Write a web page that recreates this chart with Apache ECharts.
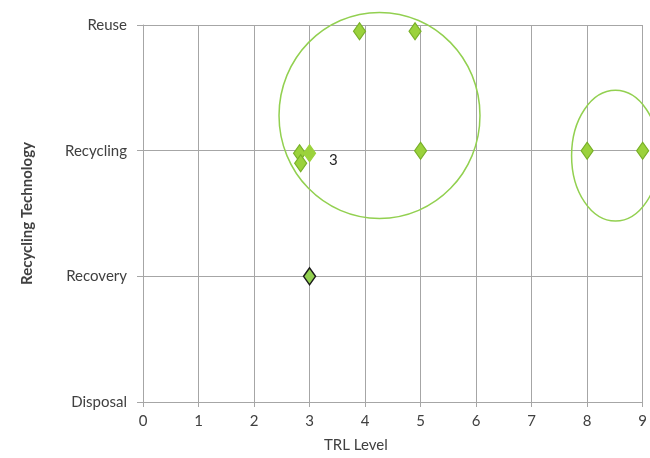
<!DOCTYPE html>
<html>
<head>
<meta charset="utf-8">
<script src="https://cdn.jsdelivr.net/npm/echarts@6/dist/echarts.min.js"></script>
<style>html,body{margin:0;padding:0;background:#fff;}#c{width:650px;height:458px;}</style>
</head>
<body>
<div id="c"></div>
<script>
const yCategories = ['Disposal', 'Recovery', 'Recycling', 'Reuse'];
const xTicks = [0, 1, 2, 3, 4, 5, 6, 7, 8, 9];
// [TRL level, technology index]
const techPoints = [
  [3.9, 2.95], [4.9, 2.95],
  [2.82, 1.98], [2.84, 1.9], [5.0, 2], [8.0, 2], [9.0, 2]
];
const labeledPoint = [3.0, 1.98];
const recoveryPoints = [[3.0, 1]];
// ellipse: [centerX, centerY, radiusX, radiusY] in data units
const ellipses = [[4.26, 2.28, 1.81, 0.82], [8.51, 1.96, 0.79, 0.52]];

const font = 'Lato';
const chart = echarts.init(document.getElementById('c'));
chart.setOption({
  animation: false,
  grid: { left: 143, right: 6, top: 25, bottom: 53, containLabel: false },
  xAxis: {
    type: 'value', min: 0, max: 9, interval: 1,
    name: 'TRL Level', nameLocation: 'middle', nameGap: 36,
    nameTextStyle: { fontFamily: font, fontSize: 15, color: '#404040', padding: [0, 74, 0, 0] },
    axisLine: { show: true, lineStyle: { color: '#a6a6a6' } },
    axisTick: { show: true, length: 5, lineStyle: { color: '#a6a6a6' } },
    axisLabel: { fontFamily: font, fontSize: 15, color: '#404040', margin: 12,
      formatter: v => xTicks.includes(v) ? String(v) : '' },
    splitLine: { show: true, lineStyle: { color: '#a6a6a6' } }
  },
  yAxis: {
    type: 'value', min: 0, max: 3, interval: 1,
    name: 'Recycling Technology', nameLocation: 'middle', nameGap: 108,
    nameTextStyle: { fontFamily: font, fontSize: 15, fontWeight: 'bold', color: '#404040' },
    axisLine: { show: true, lineStyle: { color: '#a6a6a6' } },
    axisTick: { show: true, length: 6, lineStyle: { color: '#a6a6a6' } },
    axisLabel: { fontFamily: font, fontSize: 15, color: '#404040', margin: 16,
      formatter: v => yCategories[v] || '' },
    splitLine: { show: true, lineStyle: { color: '#a6a6a6' } }
  },
  series: [
    {
      type: 'custom', clip: false, z: 1,
      data: ellipses,
      renderItem: function (params, api) {
        const c = api.coord([api.value(0), api.value(1)]);
        const s = api.size([api.value(2), api.value(3)]);
        return {
          type: 'ellipse',
          shape: { cx: c[0], cy: c[1], rx: s[0], ry: s[1] },
          style: { fill: 'none', stroke: '#92d050', lineWidth: 1.5 }
        };
      }
    },
    {
      type: 'scatter', z: 3, symbol: 'diamond', symbolSize: [12, 17],
      itemStyle: { color: '#9bd23c', borderColor: '#78b028', borderWidth: 1.2, opacity: 1 },
      data: techPoints
    },
    {
      type: 'scatter', z: 3, symbol: 'diamond', symbolSize: [12, 17],
      itemStyle: { color: '#9bd23c', borderColor: '#9bd23c', borderWidth: 1.2, opacity: 1 },
      label: { show: true, formatter: '3', position: 'right', offset: [8, 7],
        fontFamily: font, fontSize: 15, color: '#262626' },
      data: [labeledPoint]
    },
    {
      type: 'scatter', z: 3, symbol: 'diamond', symbolSize: [12, 17],
      itemStyle: { color: '#92d050', borderColor: '#1a1a1a', borderWidth: 1.5, opacity: 1 },
      data: recoveryPoints
    }
  ]
});
</script>
</body>
</html>
